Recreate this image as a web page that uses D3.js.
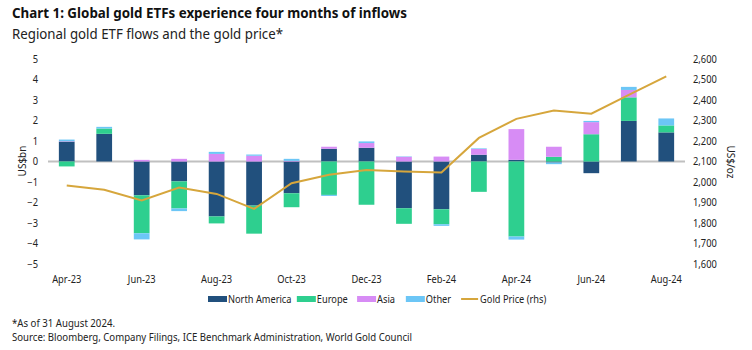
<!DOCTYPE html>
<html>
<head>
<meta charset="utf-8">
<script src="https://cdn.jsdelivr.net/npm/d3@7"></script>
<style>
  body { margin: 0; background: #fff; }
  svg { display: block; font-family: "Noto Sans", sans-serif; }
</style>
</head>
<body>
<script>
const WIDTH = 752;
const HEIGHT = 350;

const months = ["Apr-23", "May-23", "Jun-23", "Jul-23", "Aug-23", "Sep-23", "Oct-23", "Nov-23", "Dec-23",
                "Jan-24", "Feb-24", "Mar-24", "Apr-24", "May-24", "Jun-24", "Jul-24", "Aug-24"];
const northAmerica = [0.97, 1.35, -1.65, -0.97, -2.68, -2.15, -1.55, 0.62, 0.67, -2.28, -2.33, 0.33, 0.08, -0.05, -0.57, 1.98, 1.42];
const europe = [-0.24, 0.26, -1.85, -1.32, -0.34, -1.37, -0.68, -1.63, -2.11, -0.76, -0.73, -1.48, -3.66, 0.23, 1.33, 1.15, 0.34];
const asia = [0.02, 0.0, 0.08, 0.13, 0.37, 0.28, 0.03, 0.1, 0.23, 0.23, 0.24, 0.28, 1.5, 0.49, 0.59, 0.36, 0.0];
const other = [0.08, 0.08, -0.3, -0.13, 0.1, 0.06, 0.1, -0.05, 0.08, 0.02, -0.08, 0.03, -0.15, -0.08, 0.06, 0.15, 0.34];
const goldPrice = [1983, 1962, 1910, 1973, 1942, 1869, 1994, 2035, 2059, 2051, 2046, 2215, 2308, 2349, 2333, 2425, 2515];

const leftTicks = [-5, -4, -3, -2, -1, 0, 1, 2, 3, 4, 5];
const rightTicks = [1600, 1700, 1800, 1900, 2000, 2100, 2200, 2300, 2400, 2500, 2600];
const xTickLabels = ["Apr-23", "Jun-23", "Aug-23", "Oct-23", "Dec-23", "Feb-24", "Apr-24", "Jun-24", "Aug-24"];

const seriesNames = ["North America", "Europe", "Asia", "Other"];
const seriesValues = [northAmerica, europe, asia, other];
const colors = ["#21507d", "#2ecf8f", "#d78cf5", "#6cc6f6"];
const GOLD = "#d6a63c";

const rows = months.map((m, i) => {
  const r = { month: m };
  seriesNames.forEach((s, j) => r[s] = seriesValues[j][i]);
  return r;
});

const svg = d3.select("body").append("svg")
              .attr("width", WIDTH)
              .attr("height", HEIGHT);

// squeeze a text to the given width (the original uses a narrow face)
const fitWidth = (sel, w) => sel.attr("textLength", w).attr("lengthAdjust", "spacingAndGlyphs");
const squeeze = (sel, k) => sel.each(function() {
  const w = this.getComputedTextLength();
  d3.select(this).attr("textLength", w * k).attr("lengthAdjust", "spacingAndGlyphs");
});

svg.append("text").attr("x", 12).attr("y", 18)
   .attr("font-size", 15).attr("font-weight", "bold").attr("fill", "#111")
   .text("Chart 1: Global gold ETFs experience four months of inflows")
   .call(fitWidth, 395);

svg.append("text").attr("x", 12).attr("y", 39)
   .attr("font-size", 14).attr("fill", "#222")
   .text("Regional gold ETF flows and the gold price*")
   .call(fitWidth, 271);

const x = d3.scaleBand()
            .domain(months)
            .range([48, 685])
            .paddingInner(0.58)
            .paddingOuter(0.29);

const y = d3.scaleLinear().domain([-5, 5]).range([264, 59]);
const y2 = d3.scaleLinear().domain([1600, 2600]).range([264, 59]);

// zero line
svg.append("line")
   .attr("x1", 48).attr("x2", 685)
   .attr("y1", y(0)).attr("y2", y(0))
   .attr("stroke", "#c0c0c0").attr("stroke-width", 2);

const stack = d3.stack().keys(seriesNames).offset(d3.stackOffsetDiverging);
const stacked = stack(rows);

svg.append("g").selectAll("g")
   .data(stacked)
   .join("g")
   .attr("fill", (d, i) => colors[i])
   .selectAll("rect")
   .data(d => d)
   .join("rect")
   .attr("x", d => x(d.data.month))
   .attr("width", x.bandwidth())
   .attr("y", d => y(Math.max(d[0], d[1])))
   .attr("height", d => Math.abs(y(d[0]) - y(d[1])));

const line = d3.line()
               .x((d, i) => x(months[i]) + x.bandwidth() / 2)
               .y(d => y2(d));

svg.append("path")
   .datum(goldPrice)
   .attr("d", line)
   .attr("fill", "none")
   .attr("stroke", GOLD)
   .attr("stroke-width", 2);

// axes
const styleAxis = g => {
  g.select(".domain").remove();
  g.selectAll(".tick line").remove();
  g.selectAll("text").attr("font-size", 10).attr("fill", "#222").attr("font-family", "Noto Sans");
};

svg.append("g")
   .attr("transform", "translate(48,0)")
   .call(d3.axisLeft(y).tickValues(leftTicks).tickSize(0).tickPadding(10))
   .call(styleAxis);

svg.append("g")
   .attr("transform", "translate(685,0)")
   .call(d3.axisRight(y2).tickValues(rightTicks).tickSize(0).tickPadding(8).tickFormat(d3.format(",")))
   .call(styleAxis);

svg.append("g")
   .attr("transform", "translate(0,270)")
   .call(d3.axisBottom(x).tickValues(xTickLabels).tickSize(0).tickPadding(6))
   .call(styleAxis);

svg.selectAll(".tick text").call(squeeze, 0.93);

svg.append("text")
   .attr("transform", "translate(26,161) rotate(-90)")
   .attr("text-anchor", "middle").attr("font-size", 10).attr("fill", "#222")
   .text("US$bn");

svg.append("text")
   .attr("transform", "translate(727,162) rotate(90)")
   .attr("text-anchor", "middle").attr("font-size", 10).attr("fill", "#222")
   .text("US$/oz");

// legend
const legendItems = seriesNames.map((s, i) => ({ name: s, color: colors[i], type: "rect" }))
                               .concat([{ name: "Gold Price (rhs)", color: GOLD, type: "line" }]);
const legend = svg.append("g").attr("transform", "translate(208,299)");
let lx = 0;
legendItems.forEach(item => {
  const g = legend.append("g").attr("transform", "translate(" + lx + ",0)");
  if (item.type === "rect") {
    g.append("rect").attr("x", 0).attr("y", -3).attr("width", 19).attr("height", 6).attr("fill", item.color);
  } else {
    g.append("line").attr("x1", 0).attr("x2", 17).attr("y1", 0).attr("y2", 0)
     .attr("stroke", item.color).attr("stroke-width", 2);
  }
  const sw = item.type === "rect" ? 20 : 19;
  const t = g.append("text").attr("x", sw).attr("y", 3.5)
             .attr("font-size", 10.5).attr("fill", "#222")
             .text(item.name)
             .call(squeeze, 0.88);
  lx += sw + t.node().getComputedTextLength() * 0.88 + 13;
});

svg.append("text").attr("x", 12).attr("y", 327)
   .attr("font-size", 10).attr("fill", "#222")
   .text("*As of 31 August 2024.")
   .call(fitWidth, 103);

svg.append("text").attr("x", 12).attr("y", 341)
   .attr("font-size", 10).attr("fill", "#222")
   .text("Source: Bloomberg, Company Filings, ICE Benchmark Administration, World Gold Council")
   .call(fitWidth, 400);
</script>
</body>
</html>
